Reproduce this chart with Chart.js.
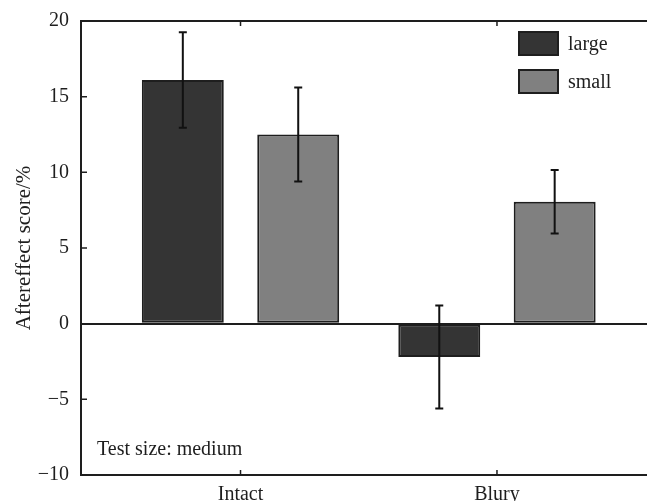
<!DOCTYPE html>
<html>
<head>
<meta charset="utf-8">
<script src="https://cdn.jsdelivr.net/npm/chart.js@4.4.0/dist/chart.umd.min.js"></script>
<style>
  html, body { margin: 0; padding: 0; background: #fff; overflow: hidden; }
  #wrap { width: 647px; height: 501px; }
</style>
</head>
<body>
<div id="wrap"><canvas id="chart" width="647" height="501"></canvas></div>
<script>
const categories = ["Intact", "Blury"];
const seriesNames = ["large", "small"];
const largeValues = [16.1, -2.2];
const largeErrors = [3.15, 3.4];
const smallValues = [12.5, 8.05];
const smallErrors = [3.1, 2.1];
const yTicks = [-10, -5, 0, 5, 10, 15, 20];
const yTitle = "Aftereffect score/%";
const note = "Test size: medium";

const serif = "'Liberation Serif', 'Times New Roman', serif";
const ink = "#1e1e1e";

const toPoints = (vals) => vals.map((v, i) => ({ x: i + 1, y: v }));

// frame (top, left, bottom only; right side is cut off in the original)
const framePlugin = {
  id: "frame",
  afterDatasetsDraw(chart) {
    const { ctx, chartArea: a, scales } = chart;
    ctx.save();
    ctx.strokeStyle = ink;
    ctx.lineWidth = 2;
    ctx.beginPath();
    ctx.moveTo(a.right, a.top);
    ctx.lineTo(a.left, a.top);
    ctx.lineTo(a.left, a.bottom);
    ctx.lineTo(a.right, a.bottom);
    ctx.stroke();
    // inward ticks
    ctx.lineWidth = 1.5;
    ctx.beginPath();
    yTicks.forEach((v) => {
      const y = scales.y.getPixelForValue(v);
      ctx.moveTo(a.left, y);
      ctx.lineTo(a.left + 6, y);
    });
    categories.forEach((c, i) => {
      const x = scales.x.getPixelForValue(i + 1);
      ctx.moveTo(x, a.bottom);
      ctx.lineTo(x, a.bottom - 5);
      ctx.moveTo(x, a.top);
      ctx.lineTo(x, a.top + 5);
    });
    ctx.stroke();
    ctx.restore();
  },
};

const errorBarPlugin = {
  id: "errorBars",
  afterDatasetsDraw(chart) {
    const { ctx, scales } = chart;
    ctx.save();
    ctx.strokeStyle = "#111";
    ctx.lineWidth = 2;
    chart.data.datasets.forEach((ds, di) => {
      const meta = chart.getDatasetMeta(di);
      meta.data.forEach((bar, i) => {
        const v = ds.data[i].y;
        const e = ds.errors[i];
        const y1 = scales.y.getPixelForValue(v + e);
        const y2 = scales.y.getPixelForValue(v - e);
        ctx.beginPath();
        ctx.moveTo(bar.x, y1);
        ctx.lineTo(bar.x, y2);
        ctx.moveTo(bar.x - 4, y1);
        ctx.lineTo(bar.x + 4, y1);
        ctx.moveTo(bar.x - 4, y2);
        ctx.lineTo(bar.x + 4, y2);
        ctx.stroke();
      });
    });
    ctx.restore();
  },
};

const boxLegendPlugin = {
  id: "boxLegend",
  afterDraw(chart) {
    const { ctx, chartArea: a } = chart;
    ctx.save();
    ctx.font = "20px " + serif;
    ctx.textBaseline = "alphabetic";
    chart.data.datasets.forEach((ds, i) => {
      const bx = a.left + 438;
      const by = a.top + 11 + i * 38;
      ctx.fillStyle = ds.backgroundColor;
      ctx.fillRect(bx, by, 39, 23);
      ctx.strokeStyle = ink;
      ctx.lineWidth = 2;
      ctx.strokeRect(bx, by, 39, 23);
      ctx.fillStyle = ink;
      ctx.fillText(ds.label, bx + 49, by + 18);
    });
    ctx.fillText(note, a.left + 16, 455);
    ctx.restore();
  },
};

new Chart(document.getElementById("chart"), {
  type: "bar",
  data: {
    datasets: [
      {
        label: seriesNames[0],
        data: toPoints(largeValues),
        errors: largeErrors,
        backgroundColor: "#343434",
        borderColor: ink,
        borderWidth: 2,
        borderSkipped: false,
      },
      {
        label: seriesNames[1],
        data: toPoints(smallValues),
        errors: smallErrors,
        backgroundColor: "#808080",
        borderColor: ink,
        borderWidth: 2,
        borderSkipped: false,
      },
    ],
  },
  options: {
    responsive: false,
    animation: false,
    layout: { padding: { top: 21, left: 0, right: 0, bottom: 0 } },
    datasets: {
      bar: { categoryPercentage: 0.9, barPercentage: 0.71 },
    },
    plugins: {
      legend: { display: false },
      tooltip: { enabled: false },
    },
    scales: {
      x: {
        type: "linear",
        offset: false,
        min: 0.378,
        max: 2.585,
        afterBuildTicks: (s) => {
          s.ticks = categories.map((c, i) => ({ value: i + 1 }));
        },
        afterFit: (s) => {
          s.height = 26;
        },
        grid: { display: false, offset: false },
        border: { display: false },
        ticks: {
          callback: (v) => categories[v - 1],
          font: { family: serif, size: 20 },
          color: ink,
          padding: 0,
          maxRotation: 0,
        },
      },
      y: {
        min: -10,
        max: 20,
        afterBuildTicks: (s) => {
          s.ticks = yTicks.map((v) => ({ value: v }));
        },
        afterFit: (s) => {
          s.width = 81;
          s.paddingTop = 0;
          s.paddingBottom = 0;
        },
        grid: {
          drawTicks: false,
          lineWidth: 2,
          color: (c) => (c.tick && c.tick.value === 0 ? ink : "rgba(0,0,0,0)"),
        },
        border: { display: false },
        ticks: {
          callback: (v) => (v < 0 ? "\u2212" + Math.abs(v) : String(v)),
          font: { family: serif, size: 20 },
          color: ink,
          padding: 12,
        },
        title: {
          display: true,
          text: yTitle,
          font: { family: serif, size: 21 },
          color: ink,
          padding: { top: 12, bottom: 0 },
        },
      },
    },
  },
  plugins: [framePlugin, errorBarPlugin, boxLegendPlugin],
});
</script>
</body>
</html>
